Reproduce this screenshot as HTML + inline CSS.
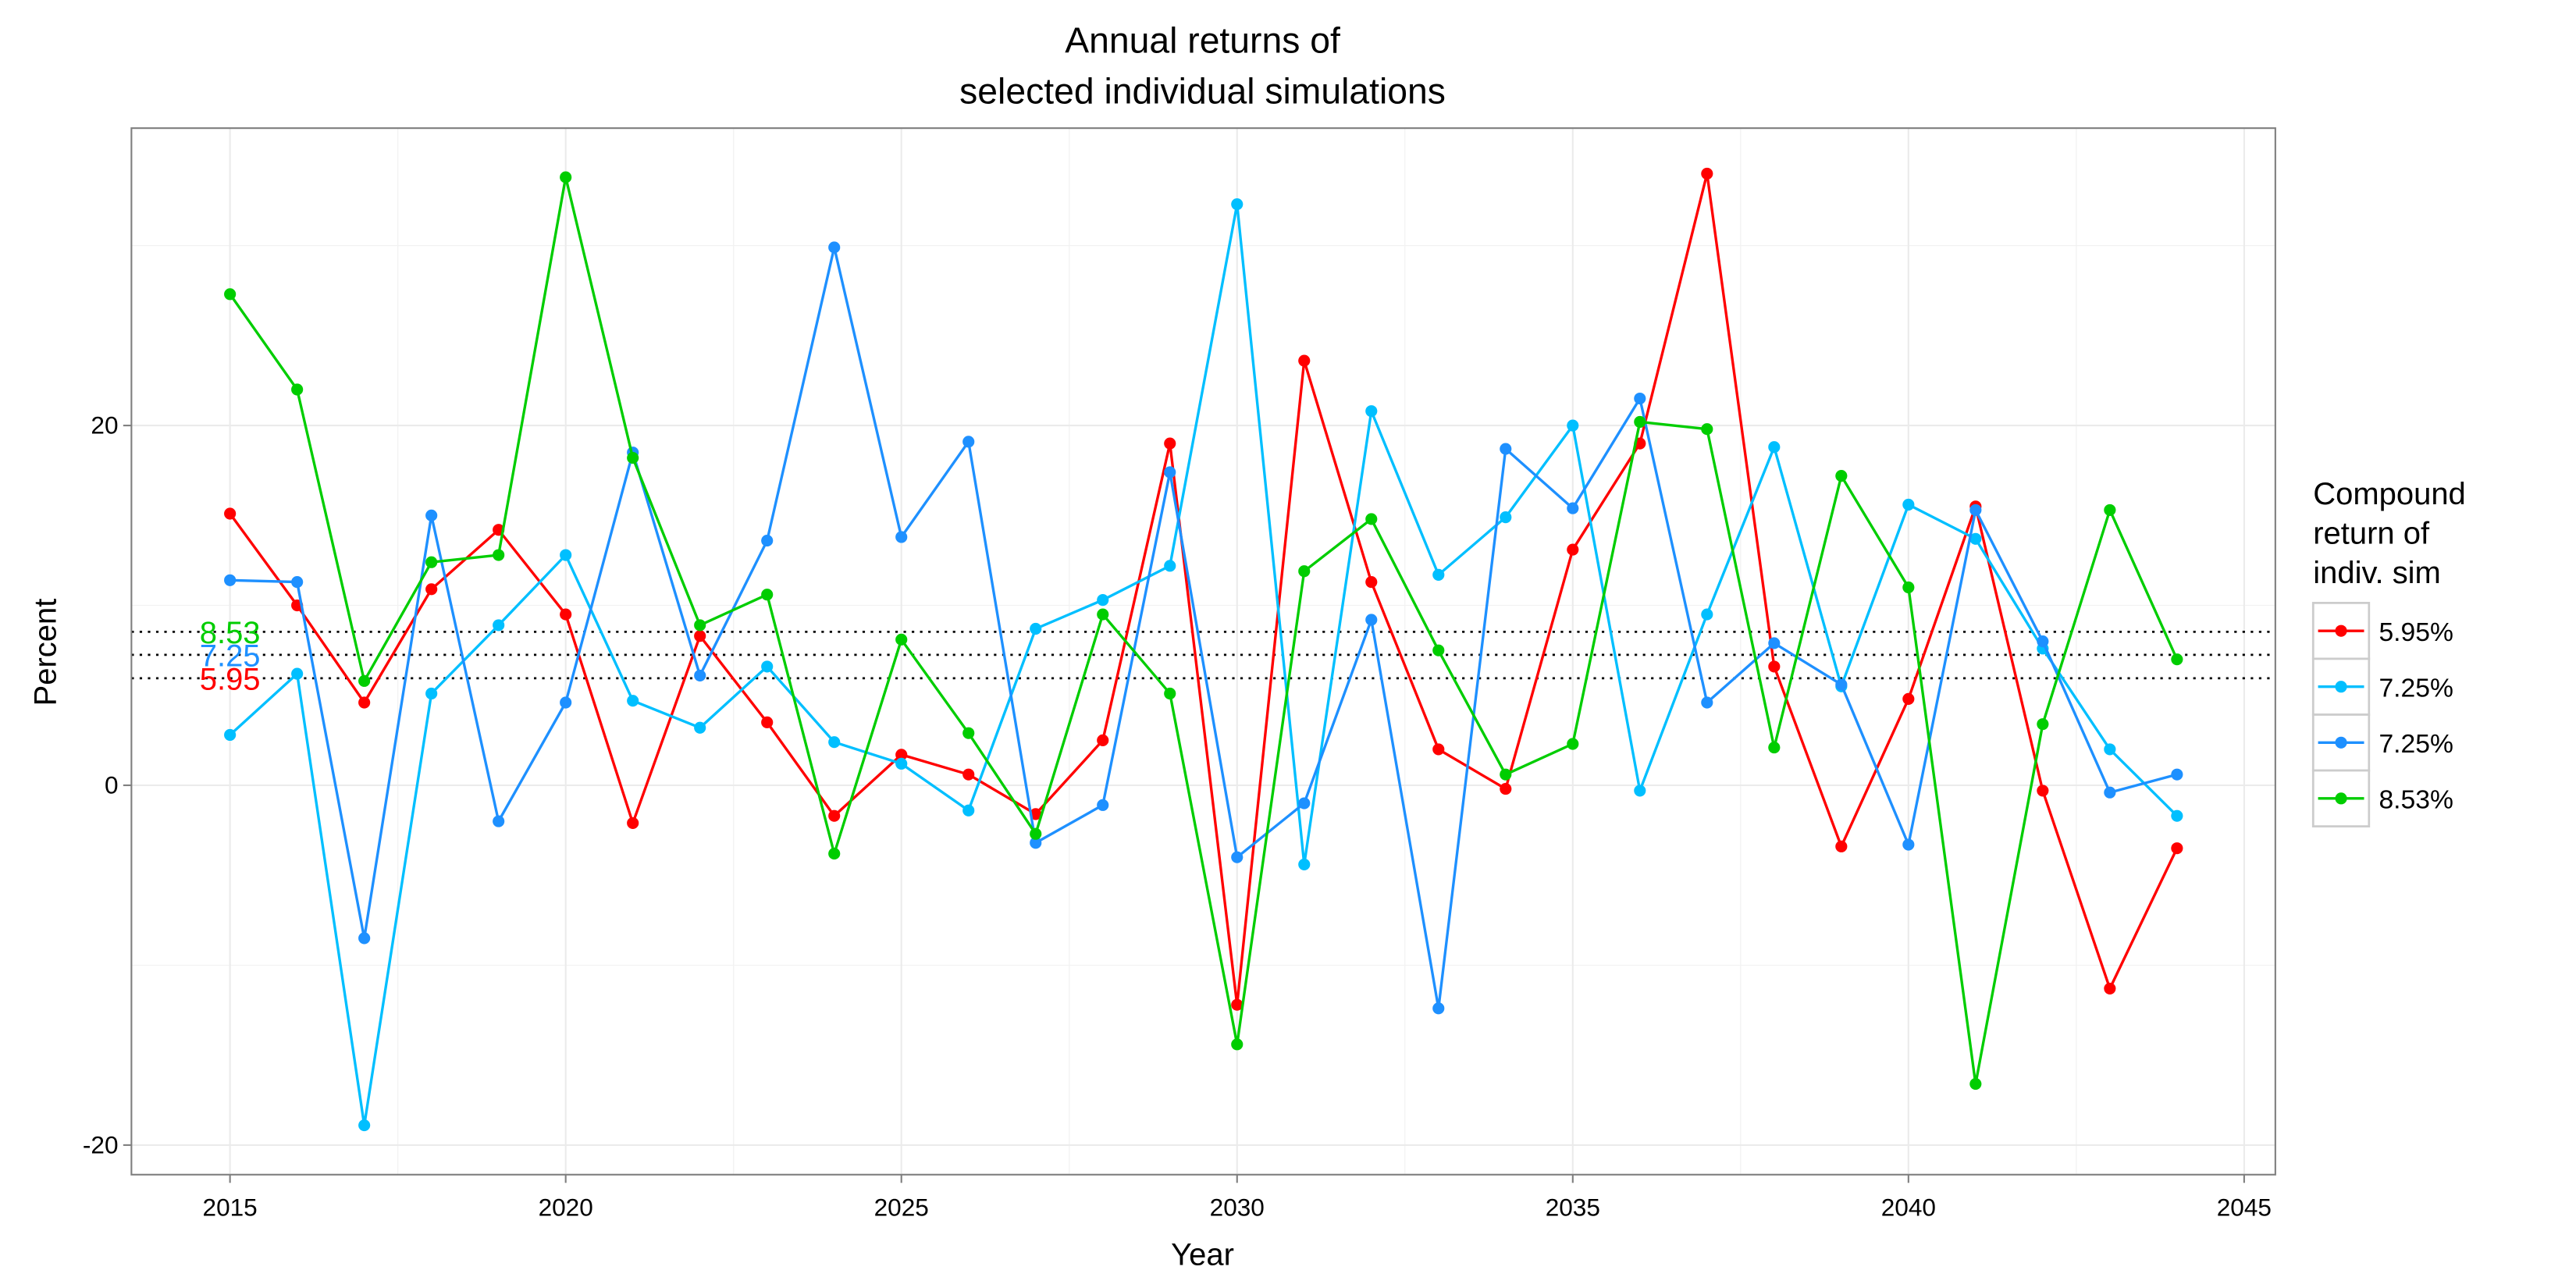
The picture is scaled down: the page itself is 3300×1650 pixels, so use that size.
<!DOCTYPE html>
<html><head><meta charset="utf-8"><style>
html,body{margin:0;padding:0;background:#fff;}
svg{display:block;font-family:"Liberation Sans",Arial,sans-serif;}
</style></head><body>
<svg id="chart" width="3300" height="1650" viewBox="0 0 1568 784" xmlns="http://www.w3.org/2000/svg">
<rect width="1568" height="784" fill="#fff"/>
<text x="732" y="32" text-anchor="middle" font-size="22">Annual returns of</text>
<text x="732" y="63" text-anchor="middle" font-size="22">selected individual simulations</text>
<g id="grid"></g>
<g id="hlines"></g>
<g id="series"></g>
<rect x="80" y="78" width="1305" height="637" fill="none" stroke="#7f7f7f" stroke-width="1"/>
<g id="axes"></g>
<text x="732" y="770" text-anchor="middle" font-size="19">Year</text>
<text transform="translate(34,397) rotate(-90)" text-anchor="middle" font-size="19">Percent</text>
<g id="legend"></g>
</svg>
<script>
const years=[2015,2016,2017,2018,2019,2020,2021,2022,2023,2024,2025,2026,2027,2028,2029,2030,2031,2032,2033,2034,2035,2036,2037,2038,2039,2040,2041,2042,2043,2044];
const seriesRed=[15.1,10.0,4.6,10.9,14.2,9.5,-2.1,8.3,3.5,-1.7,1.7,0.6,-1.6,2.5,19.0,-12.2,23.6,11.3,2.0,-0.2,13.1,19.0,34.0,6.6,-3.4,4.8,15.5,-0.3,-11.3,-3.5];
const seriesSky=[2.8,6.2,-18.9,5.1,8.9,12.8,4.7,3.2,6.6,2.4,1.2,-1.4,8.7,10.3,12.2,32.3,-4.4,20.8,11.7,14.9,20.0,-0.3,9.5,18.8,5.5,15.6,13.7,7.6,2.0,-1.7];
const seriesBlue=[11.4,11.3,-8.5,15.0,-2.0,4.6,18.5,6.1,13.6,29.9,13.8,19.1,-3.2,-1.1,17.4,-4.0,-1.0,9.2,-12.4,18.7,15.4,21.5,4.6,7.9,5.6,-3.3,15.3,8.0,-0.4,0.6];
const seriesGreen=[27.3,22.0,5.8,12.4,12.8,33.8,18.2,8.9,10.6,-3.8,8.1,2.9,-2.7,9.5,5.1,-14.4,11.9,14.8,7.5,0.6,2.3,20.2,19.8,2.1,17.2,11.0,-16.6,3.4,15.3,7.0];
const seriesColors=["#ff0000","#00bfff","#1e90ff","#00cd00"];
const legendLabels=["5.95%","7.25%","7.25%","8.53%"];
const xTicks=[2015,2020,2025,2030,2035,2040,2045];
const yTicks=[-20,0,20];
const hlineValues=[5.95,7.25,8.53];
const hlineLabels=["5.95","7.25","8.53"];
const hlineColors=["#ff0000","#1e90ff","#00cd00"];

const NS="http://www.w3.org/2000/svg";
const xs=y=>140+(y-2015)*(1366-140)/30;
const ys=v=>478-v*(478-259)/20;
function mk(p,t,a){const e=document.createElementNS(NS,t);for(const k in a)e.setAttribute(k,a[k]);p.appendChild(e);return e;}
const grid=document.getElementById('grid');
[-10,10,30].forEach(v=>{const l=mk(grid,'line',{x1:80,x2:1385,y1:ys(v),y2:ys(v),stroke:'#f2f2f2','stroke-width':0.6});

});
[2017.5,2022.5,2027.5,2032.5,2037.5,2042.5].forEach(v=>{const l=mk(grid,'line',{x1:xs(v),x2:xs(v),y1:78,y2:715,stroke:'#f2f2f2','stroke-width':0.6});

});
yTicks.forEach(v=>{const l=mk(grid,'line',{x1:80,x2:1385,y1:ys(v),y2:ys(v),stroke:'#ebebeb','stroke-width':1});

});
xTicks.forEach(v=>{const l=mk(grid,'line',{x1:xs(v),x2:xs(v),y1:78,y2:715,stroke:'#ebebeb','stroke-width':1});

});
const hl=document.getElementById('hlines');
hlineValues.forEach((v,i)=>{const l=mk(hl,'line',{x1:80,x2:1385,y1:ys(v),y2:ys(v),stroke:'#000','stroke-width':1.3,'stroke-dasharray':'1.5,3.5'});


const t=mk(hl,'text',{x:140,y:ys(v)+7,'text-anchor':'middle','font-size':19,fill:hlineColors[i]});t.textContent=hlineLabels[i];

});
const sg=document.getElementById('series');
[seriesRed,seriesSky,seriesBlue,seriesGreen].forEach((s,i)=>{
const g=mk(sg,'g',{});


const pl=mk(g,'polyline',{points:s.map((v,j)=>xs(years[j])+','+ys(v)).join(' '),fill:'none',stroke:seriesColors[i],'stroke-width':1.6});


s.forEach((v,j)=>{const c=mk(g,'circle',{cx:xs(years[j]),cy:ys(v),r:3.6,fill:seriesColors[i]});

});});
const ax=document.getElementById('axes');
xTicks.forEach(v=>{mk(ax,'line',{x1:xs(v),x2:xs(v),y1:715,y2:720,stroke:'#7f7f7f'});
const t=mk(ax,'text',{x:xs(v),y:740,'text-anchor':'middle','font-size':15});t.textContent=v;

});
yTicks.forEach(v=>{mk(ax,'line',{x1:75,x2:80,y1:ys(v),y2:ys(v),stroke:'#7f7f7f'});
const t=mk(ax,'text',{x:72,y:ys(v)+5,'text-anchor':'end','font-size':15});t.textContent=v;

});
const lg=document.getElementById('legend');
["Compound","return of","indiv. sim"].forEach((s,i)=>{const t=mk(lg,'text',{x:1408,y:307+i*24,'font-size':19});t.textContent=s;

});
legendLabels.forEach((s,i)=>{const y0=367+i*34;
const r=mk(lg,'rect',{x:1408,y:y0,width:34,height:34,fill:'#fff',stroke:'#cccccc','stroke-width':1.3});


mk(lg,'line',{x1:1411,x2:1439,y1:y0+17,y2:y0+17,stroke:seriesColors[i],'stroke-width':1.6});
mk(lg,'circle',{cx:1425,cy:y0+17,r:3.6,fill:seriesColors[i]});
const t=mk(lg,'text',{x:1448,y:y0+23,'font-size':16});t.textContent=s;

});
</script>
</body></html>
